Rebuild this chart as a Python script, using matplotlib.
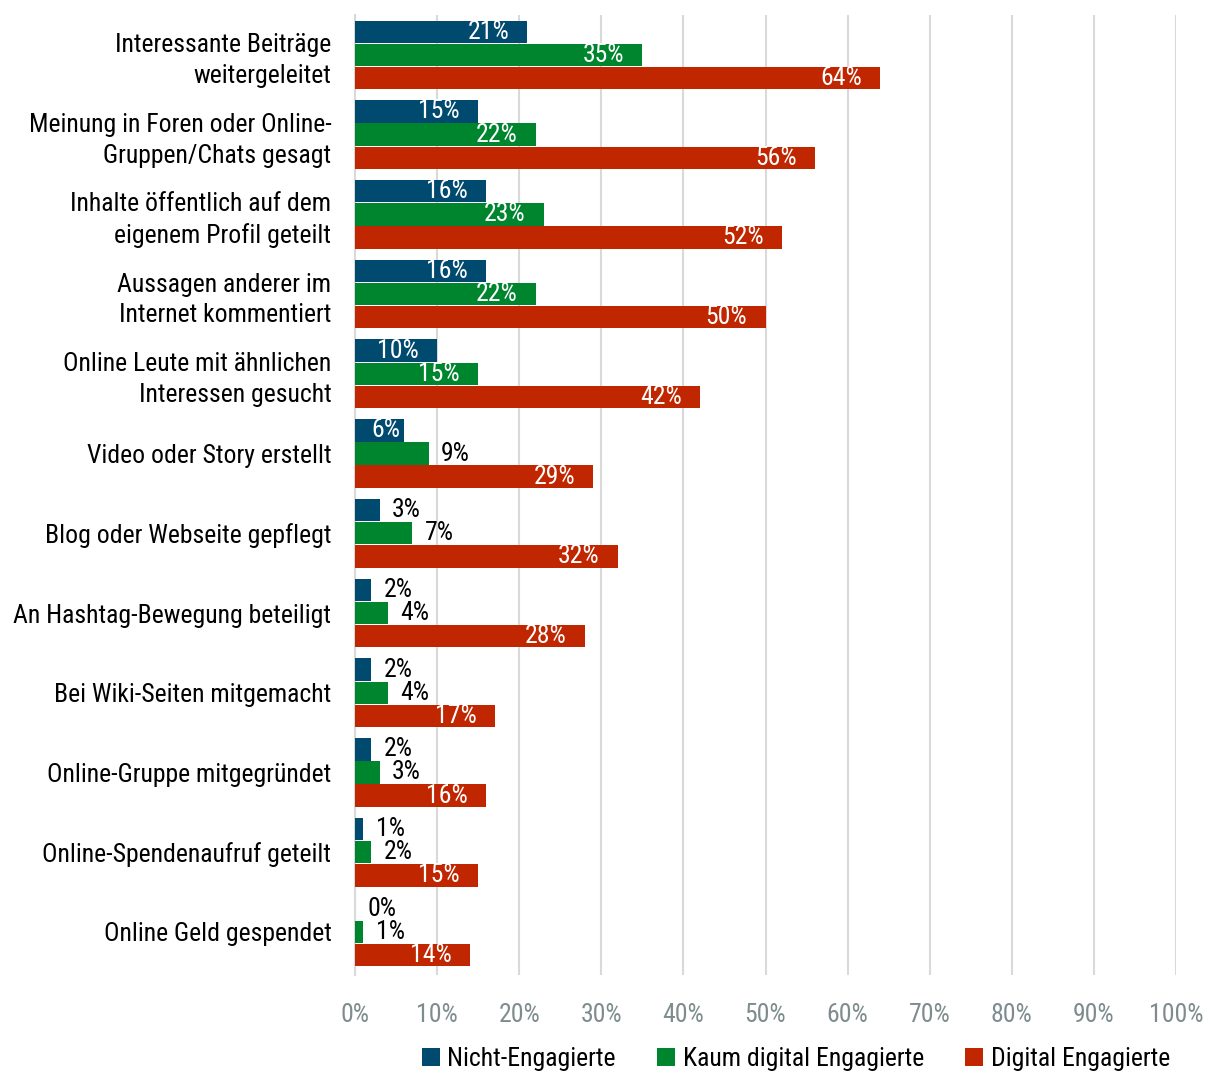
import matplotlib
matplotlib.use("Agg")
import matplotlib.pyplot as plt
from matplotlib import font_manager as fm
import numpy as np

categories = [
    "Interessante Beiträge\nweitergeleitet",
    "Meinung in Foren oder Online-\nGruppen/Chats gesagt",
    "Inhalte öffentlich auf dem\neigenem Profil geteilt",
    "Aussagen anderer im\nInternet kommentiert",
    "Online Leute mit ähnlichen\nInteressen gesucht",
    "Video oder Story erstellt",
    "Blog oder Webseite gepflegt",
    "An Hashtag-Bewegung beteiligt",
    "Bei Wiki-Seiten mitgemacht",
    "Online-Gruppe mitgegründet",
    "Online-Spendenaufruf geteilt",
    "Online Geld gespendet",
]
series_names = ["Nicht-Engagierte", "Kaum digital Engagierte", "Digital Engagierte"]
nicht = [21, 15, 16, 16, 10, 6, 3, 2, 2, 2, 1, 0]
kaum = [35, 22, 23, 22, 15, 9, 7, 4, 4, 3, 2, 1]
digital = [64, 56, 52, 50, 42, 29, 32, 28, 17, 16, 15, 14]
colors = ["#004A6F", "#00852F", "#C02600"]
# labels at or above this value sit inside the bar (white)
inside_min = [5, 10, 10]

# pick a narrow font if one is around
fonts = {(f.name, f.stretch) for f in fm.fontManager.ttflist}
names = {n for n, s in fonts}
family, stretch = "DejaVu Sans", "normal"
for cand in ["Liberation Sans Narrow", "Arial Narrow", "Roboto Condensed",
             "Open Sans Condensed"]:
    if cand in names:
        family = cand
        break
else:
    if any(n == "DejaVu Sans" and s in ("condensed", 500, "semi-condensed") for n, s in fonts):
        family, stretch = "DejaVu Sans", "condensed"
    elif "Roboto" in names:
        family = "Roboto"

plt.rcParams["font.family"] = [family, "DejaVu Sans"]
plt.rcParams["font.stretch"] = stretch

fig = plt.figure(figsize=(12.06, 10.77), dpi=100)
ax = fig.add_axes([355 / 1206, 1 - 975 / 1077, (1176 - 355) / 1206, (975 - 15) / 1077])

# size the text so the widest label is as wide as in the original
probe = fig.text(0, 0, "An Hashtag-Bewegung beteiligt", fontsize=19)
w = probe.get_window_extent(renderer=fig.canvas.get_renderer()).width
probe.remove()
fs = min(19.5, 19.0 * 318 / w)

n = len(categories)
y = np.arange(n)
bh = 0.29
offsets = [-bh, 0, bh]
data = [nicht, kaum, digital]

for s in range(3):
    ys = y + offsets[s]
    ax.barh(ys, data[s], height=bh * 0.97, color=colors[s], label=series_names[s], zorder=3)
    for yy, v in zip(ys, data[s]):
        if v >= inside_min[s]:
            xc = max(v - 4.75, 3.8)
            ax.text(xc, yy, f"{v}%", ha="center", va="center", color="white",
                    fontsize=fs, zorder=4)
        else:
            ax.text(v + 1.5, yy, f"{v}%", ha="left", va="center", color="black",
                    fontsize=fs, zorder=4)

ax.set_xlim(0, 100)
ax.set_ylim(n - 0.5 + 0.04, -0.5)
ax.set_xticks(np.arange(0, 101, 10))
ax.set_xticklabels([f"{t}%" for t in range(0, 101, 10)], color="#7F8C8D", fontsize=fs)
ax.set_yticks(y)
ax.set_yticklabels(categories, fontsize=fs, linespacing=1.35)
ax.tick_params(axis="y", length=0, pad=17)
ax.tick_params(axis="x", length=0, pad=20)
ax.grid(axis="x", color="#D9D9D9", linewidth=1.5, zorder=0)
for sp in ["top", "right", "bottom"]:
    ax.spines[sp].set_visible(False)
ax.spines["left"].set_color("#D9D9D9")
ax.spines["left"].set_linewidth(1.5)

for lbl in ax.get_yticklabels():
    lbl.set_horizontalalignment("right")
    lbl.set_multialignment("right")

fig.legend(loc="lower center", bbox_to_anchor=(0.66, -0.016), ncol=3, frameon=False,
           fontsize=fs, handlelength=0.7, handleheight=0.7, handletextpad=0.3,
           columnspacing=1.6)

fig.savefig("out.png", dpi=100)
